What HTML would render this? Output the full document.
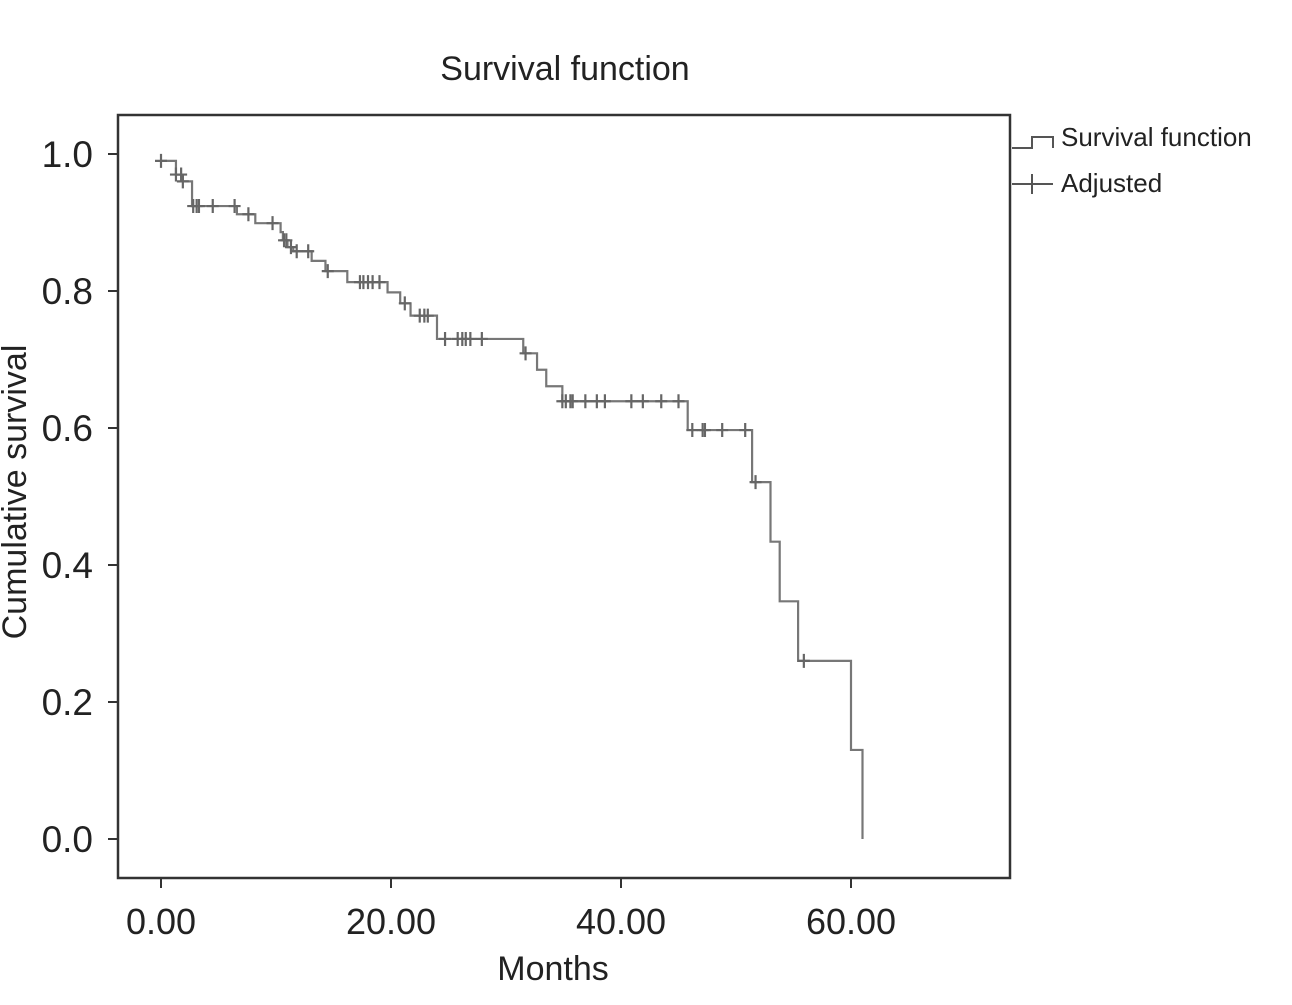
<!DOCTYPE html>
<html><head><meta charset="utf-8"><style>
body{margin:0;background:#fff;}
svg text{font-family:"Liberation Sans",sans-serif;fill:#222;}
</style></head><body>
<svg id="c" width="1292" height="1000" viewBox="0 0 1292 1000">
<text x="565" y="80" font-size="34" text-anchor="middle">Survival function</text>
<rect x="118" y="115" width="892" height="763" fill="none" stroke="#333" stroke-width="2.5"/>
<text transform="translate(26,492) rotate(-90)" font-size="34" text-anchor="middle">Cumulative survival</text>
<text x="553" y="980" font-size="34" text-anchor="middle">Months</text>
<g>
<path d="M1012,148 H1032 V137 H1053 V148" fill="none" stroke="#555" stroke-width="2"/>
<text x="1061" y="146" font-size="26">Survival function</text>
<path d="M1012,184 H1053 M1032,174 V194" stroke="#555" stroke-width="2"/>
<text x="1061" y="192" font-size="26">Adjusted</text>
</g>
<g id="axes"></g>
<g id="plot"></g>
</svg>
<script>
const stepTimes=[1.3,1.9,2.7,6.6,8.2,10.4,10.6,11.0,11.5,13.1,14.3,16.2,19.7,20.8,21.7,24.0,31.5,32.7,33.5,34.9,45.8,51.4,53.0,53.8,55.4,60.0,61.0];
const stepSurv=[0.97,0.96,0.924,0.912,0.899,0.886,0.874,0.864,0.858,0.844,0.829,0.813,0.798,0.782,0.764,0.73,0.709,0.685,0.661,0.639,0.597,0.521,0.434,0.347,0.26,0.13,0.0];
const censorTimes=[0,1.3,1.75,1.9,2.8,3.1,3.3,4.5,6.4,7.6,9.7,10.7,10.9,11.3,11.8,12.8,14.5,17.3,17.6,18.0,18.4,19.0,21.2,22.5,22.9,23.2,24.7,25.8,26.2,26.5,26.9,27.9,31.7,34.9,35.2,35.6,35.8,36.9,37.9,38.6,40.9,41.9,43.5,45.0,46.2,47.1,47.3,48.8,50.8,51.7,55.9];
const xTicks=[0,20,40,60];
const xTickLabels=["0.00","20.00","40.00","60.00"];
const yTicks=[0,0.2,0.4,0.6,0.8,1.0];
const yTickLabels=["0.0","0.2","0.4","0.6","0.8","1.0"];
const X=t=>161+t*11.5;
const Y=s=>839-s*685;
const NS="http://www.w3.org/2000/svg";
const axes=document.getElementById('axes'),plot=document.getElementById('plot');
function mk(tag,attrs,parent){const e=document.createElementNS(NS,tag);for(const k in attrs)e.setAttribute(k,attrs[k]);parent.appendChild(e);return e;}
xTicks.forEach((t,i)=>{
 const l=mk('line',{x1:X(t),x2:X(t),y1:878,y2:888,stroke:'#333','stroke-width':2},axes);
 
 
 const tx=mk('text',{x:X(t),y:934,'font-size':36,'text-anchor':'middle'},axes);
 tx.textContent=xTickLabels[i];
 
 
});
yTicks.forEach((s,i)=>{
 const l=mk('line',{x1:108,x2:118,y1:Y(s),y2:Y(s),stroke:'#333','stroke-width':2},axes);
 
 
 const tx=mk('text',{x:93,y:Y(s)+13,'font-size':37,'text-anchor':'end'},axes);
 tx.textContent=yTickLabels[i];
 
 
});
function survAt(t){let s=0.99;for(let i=0;i<stepTimes.length;i++){if(stepTimes[i]<=t)s=stepSurv[i];}return s;}
let d='M'+X(0)+','+Y(0.99);
stepTimes.forEach((t,i)=>{d+=' H'+X(t)+' V'+Y(stepSurv[i]);});
const p=mk('path',{d:d,fill:'none',stroke:'#777','stroke-width':2.2},plot);


censorTimes.forEach(t=>{
 const x=X(t),y=Y(survAt(t));
 const c=mk('path',{d:`M${x-6},${y} H${x+6} M${x},${y-7} V${y+7}`,stroke:'#666','stroke-width':2.2},plot);
 
 
});
</script>
</body></html>
